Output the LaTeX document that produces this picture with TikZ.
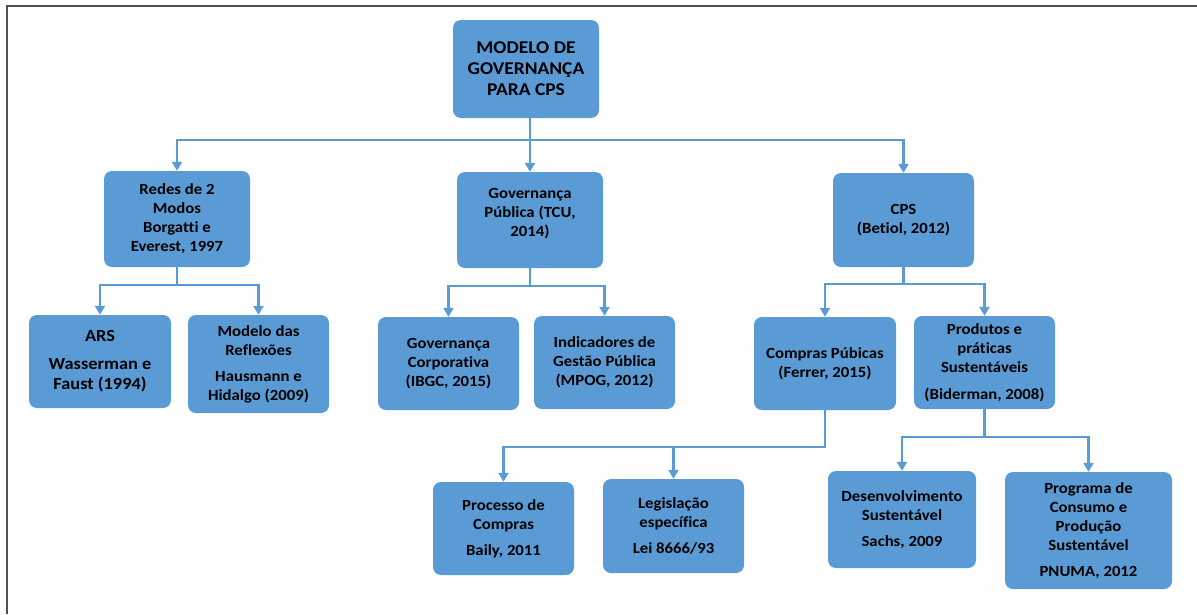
\documentclass[tikz,border=0pt]{standalone}
\usepackage{fontspec}
\setmainfont{Carlito}[FakeStretch=1.08, Ligatures={NoCommon}]
\usetikzlibrary{arrows.meta,calc}
\definecolor{boxblue}{HTML}{5B9BD5}
\definecolor{framegray}{HTML}{505050}
\tikzset{
  box/.style={fill=boxblue, rounded corners=8pt, inner sep=0pt, align=center,
    font=\bfseries\fontsize{15.5}{19}\selectfont, text=black},
  link/.style={draw=boxblue, line width=2.5pt},
  arr/.style={link, -{Triangle[width=10pt,length=9pt]}},
  framing/.style={draw=framegray, line width=1.5pt},
}
\begin{document}
\begin{tikzpicture}[x=1pt, y=-1pt]
\useasboundingbox (0,0) rectangle (1197,614);
\coordinate (fA) at (7,614);
\coordinate (fB) at (7,6);
\coordinate (fC) at (1197,6);
\draw[framing] (fA) -- (fB) -- (fC);

\node[box, minimum width=146pt, minimum height=98pt, font=\bfseries\fontsize{18}{21}\selectfont] (root) at (526,69) {MODELO DE\\GOVERNANÇA\\PARA CPS};

\node[box, minimum width=146pt, minimum height=96pt] (redes) at (177,219) {Redes de 2\\Modos\\Borgatti e\\Everest, 1997};
\node[box, minimum width=146pt, minimum height=96pt] (govpub) at (530,220) {Governança\\Pública (TCU,\\2014)\\[-3pt]\mbox{}};
\node[box, minimum width=141pt, minimum height=94pt] (cps) at (903.5,220) {CPS\\(Betiol, 2012)};

\node[box, minimum width=142pt, minimum height=93pt, font=\bfseries\fontsize{17}{20}\selectfont] (ars) at (100,361.5) {ARS\\[8pt]Wasserman e\\Faust (1994)};
\node[box, minimum width=141pt, minimum height=98pt] (modelo) at (258.5,364) {Modelo das\\Reflexões\\[7pt]Hausmann e\\Hidalgo (2009)};
\node[box, minimum width=141pt, minimum height=93pt] (govcorp) at (448.5,363.5) {Governança\\Corporativa\\(IBGC, 2015)};
\node[box, minimum width=141pt, minimum height=93pt] (indic) at (604.5,362.5) {Indicadores de\\Gestão Pública\\(MPOG, 2012)};
\node[box, minimum width=142pt, minimum height=93pt] (compras) at (825,363.5) {Compras Púbicas\\(Ferrer, 2015)};
\node[box, minimum width=141pt, minimum height=93pt] (produtos) at (984.5,362.5) {Produtos e\\práticas\\Sustentáveis\\[8pt](Biderman, 2008)};

\node[box, minimum width=141pt, minimum height=93pt] (processo) at (503.5,528.5) {Processo de\\Compras\\[7pt]Baily, 2011};
\node[box, minimum width=141pt, minimum height=94pt] (legis) at (673.5,526) {Legislação\\específica\\[7pt]Lei 8666/93};
\node[box, minimum width=148pt, minimum height=97pt] (desenv) at (902,519.5) {Desenvolvimento\\Sustentável\\[7pt]Sachs, 2009};
\node[box, minimum width=167pt, minimum height=117pt] (programa) at (1088.5,530.5) {Programa de\\Consumo e\\Produção\\Sustentável\\[7pt]PNUMA, 2012};

% root
\draw[arr] (root.south -| govpub.north) -- ++(0,22) -| (redes.north);
\draw[arr] (root.south -| govpub.north) -- (govpub.north);
\draw[arr] (root.south -| govpub.north) -- ++(0,22) -| (cps.north);
% redes
\draw[arr] (redes.south) -- ++(0,18) -| (ars.north);
\draw[arr] (redes.south) -- ++(0,18) -| (modelo.north);
% govpub
\draw[arr] (govpub.south) -- ++(0,18) -| (govcorp.north);
\draw[arr] (govpub.south) -- ++(0,18) -| (indic.north);
% cps
\draw[arr] (cps.south) -- ++(0,17) -| (compras.north);
\draw[arr] (cps.south) -- ++(0,17) -| (produtos.north);
% compras
\draw[arr] (compras.south) -- ++(0,37) -| (processo.north);
\draw[arr] (compras.south) -- ++(0,37) -| (legis.north);
% produtos
\draw[arr] (produtos.south) -- ++(0,28) -| (desenv.north);
\draw[arr] (produtos.south) -- ++(0,28) -| (programa.north);
\end{tikzpicture}
\end{document}
